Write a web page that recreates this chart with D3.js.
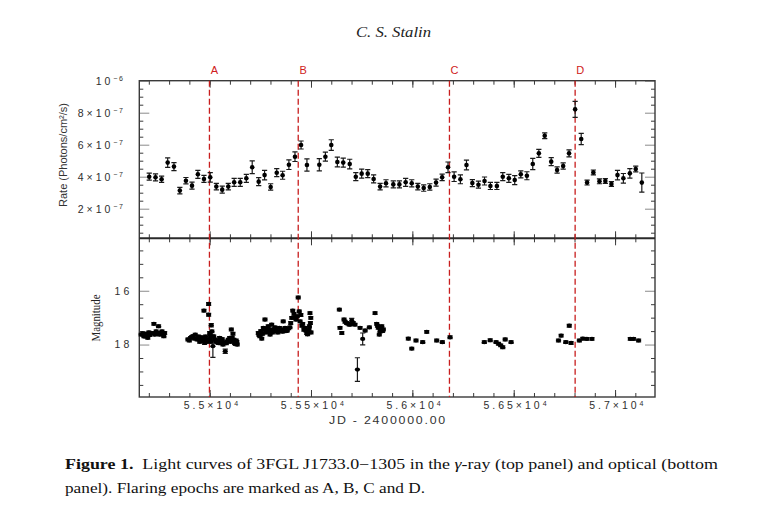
<!DOCTYPE html>
<html>
<head>
<meta charset="utf-8">
<script src="https://cdn.jsdelivr.net/npm/d3@7"></script>
<style>
body { margin: 0; background: #fff; }
</style>
</head>
<body>
<svg id="drawing_region"></svg>
<script>
// gamma-ray light curve (monthly bins), rate in units of 1e-7 photons/cm2/s
const gammaJD = [54702,54733,54763,54793,54824,54853,54883,54913,54942,54972,
  55003,55033,55062,55092,55121,55151,55181,55210,55242,55271,
  55301,55331,55360,55391,55421,55451,55480,55541,55571,55600,
  55630,55659,55691,55721,55750,55780,55809,55841,55870,55906,
  55936,55967,55997,56027,56056,56086,56117,56147,56176,56206,
  56237,56267,56296,56326,56356,56385,56417,56446,56476,56505,
  56535,56565,56594,56624,56653,56685,56714,56744,56773,56803,
  56833,56862,56893,56923,56952,56982,57012,57041,57073,57102,57132];
const gammaRate = [4.00,3.96,3.84,4.88,4.63,3.13,3.75,3.44,4.15,3.86,
  3.96,3.38,3.19,3.38,3.65,3.65,3.90,4.59,3.69,4.10,
  3.36,4.25,4.09,4.75,5.25,5.98,4.73,4.75,5.25,5.98,
  4.92,4.88,4.79,4.00,4.19,4.19,3.86,3.38,3.59,3.52,
  3.52,3.65,3.59,3.38,3.29,3.36,3.63,3.96,4.59,4.00,
  3.84,4.73,3.60,3.50,3.73,3.42,3.42,4.00,3.90,3.79,
  4.15,4.06,4.79,5.46,6.56,4.94,4.42,4.67,5.46,8.21,
  6.36,3.63,4.27,3.71,3.73,3.54,4.10,3.90,4.21,4.48,3.63];
const gammaErr = [0.22,0.22,0.20,0.30,0.25,0.20,0.20,0.22,0.25,0.22,
  0.30,0.20,0.22,0.20,0.25,0.25,0.25,0.40,0.25,0.30,
  0.20,0.25,0.25,0.30,0.30,0.25,0.38,0.38,0.28,0.33,
  0.30,0.28,0.30,0.25,0.28,0.25,0.25,0.20,0.22,0.22,
  0.22,0.25,0.22,0.20,0.20,0.20,0.22,0.20,0.33,0.30,
  0.28,0.30,0.22,0.22,0.25,0.22,0.22,0.25,0.25,0.28,
  0.22,0.25,0.35,0.25,0.18,0.25,0.20,0.20,0.22,0.50,
  0.35,0.15,0.15,0.15,0.15,0.15,0.30,0.30,0.30,0.18,0.60];

// optical light curve (magnitudes)
const optJD = [54662,54670,54676,54682,54687,54695,54700,54704,54715,54725,54729,54736,54740,54748,54753,54758,54765,54770,54774,54778,
  54893,54900,54906,54912,54918,54925,54929,54939,54945,54951,54955,54959,54963,54967,54972,54975,54980,54983,54988,54995,54995,
  55000,55003,55004,55006,55008,55011,55016,55020,55025,55030,55036,55042,55049,55053,55057,55062,55066,55070,55077,55082,55087,
  55092,55099,55103,55107,55111,55115,55119,55123,55127,55131,55134,55136,
  55240,55244,55248,55252,55257,55261,55265,55269,55273,55277,55281,55285,55289,55293,55298,55302,55306,55310,55314,55318,
  55322,55326,55331,55336,55344,55349,55355,55360,55363,55368,55372,55377,55383,55390,55396,55400,55405,55410,55416,55420,
  55426,55432,55437,55442,55446,55450,55455,55459,55465,55470,55475,55479,55483,55487,55490,55492,55495,55497,55499,55500,
  55640,55643,55652,55663,55668,55676,55682,55689,55695,55701,55708,55717,55729,55742,55755,55767,55788,55816,55824,55828,
  55832,55837,55841,55845,55849,55853,55857,
  55980,55997,56018,56051,56071,56120,56148,56186,56355,56384,56413,56425,56436,56446,56458,56487,
  56721,56734,56757,56774,56783,56824,56841,56861,56886,57075,57091,57116];
const optMag = [17.63,17.58,17.69,17.70,17.60,17.75,17.55,17.65,17.57,17.23,17.63,17.51,17.60,17.32,17.63,17.56,17.51,17.62,17.69,17.57,
  17.81,17.85,17.75,17.72,17.69,17.78,17.63,17.81,17.70,17.90,17.82,17.73,17.86,17.75,16.74,17.94,17.70,17.81,17.90,16.49,16.89,
  17.57,17.78,17.65,17.90,17.28,17.51,18.06,17.70,17.81,17.90,17.85,17.94,17.75,17.95,17.88,17.80,18.00,17.92,18.25,17.95,17.88,
  17.82,17.75,17.90,17.44,17.75,17.60,17.82,17.94,17.98,17.85,17.90,18.00,
  17.57,17.65,17.69,17.50,17.78,17.60,17.38,17.45,17.07,17.55,17.51,17.42,17.32,17.50,17.63,17.45,17.26,17.55,17.44,17.50,
  17.36,17.45,17.51,17.55,17.38,17.50,17.44,17.52,17.14,17.48,17.38,17.50,17.48,17.40,17.36,17.20,17.01,16.74,16.86,17.00,
  17.07,16.95,16.25,16.77,17.14,16.90,17.30,17.23,17.45,17.38,17.48,17.57,17.62,17.51,17.45,17.32,16.83,17.20,17.01,17.55,
  16.70,17.38,17.57,17.07,17.15,17.20,17.22,17.26,17.25,17.11,17.20,17.26,18.93,17.38,17.79,17.48,17.36,16.83,17.23,17.30,
  17.38,17.63,17.51,17.42,17.32,17.50,17.44,
  17.78,18.15,17.85,17.91,17.53,17.85,17.91,17.73,17.91,17.84,17.91,17.97,18.03,18.10,17.81,17.91,
  17.85,17.67,17.91,17.30,17.94,17.85,17.78,17.79,17.79,17.79,17.79,17.85];
const optErr = [0.05,0.05,0.05,0.05,0.05,0.05,0.05,0.05,0.05,0.05,0.05,0.05,0.05,0.05,0.05,0.05,0.05,0.05,0.05,0.05,
  0.05,0.05,0.05,0.05,0.05,0.05,0.05,0.05,0.05,0.05,0.05,0.05,0.05,0.05,0.05,0.05,0.05,0.05,0.05,0.05,0.05,
  0.05,0.05,0.05,0.05,0.06,0.05,0.42,0.05,0.05,0.05,0.05,0.05,0.05,0.05,0.05,0.05,0.05,0.05,0.08,0.05,0.05,
  0.05,0.05,0.05,0.05,0.05,0.05,0.05,0.05,0.05,0.05,0.05,0.05,
  0.05,0.05,0.05,0.05,0.05,0.05,0.05,0.05,0.05,0.05,0.05,0.05,0.05,0.05,0.05,0.05,0.05,0.05,0.05,0.05,
  0.05,0.05,0.05,0.05,0.05,0.05,0.05,0.05,0.05,0.05,0.05,0.05,0.05,0.05,0.05,0.05,0.05,0.05,0.05,0.05,
  0.05,0.05,0.05,0.05,0.05,0.05,0.05,0.05,0.05,0.05,0.05,0.05,0.05,0.05,0.05,0.05,0.05,0.05,0.05,0.05,
  0.05,0.05,0.05,0.05,0.05,0.05,0.05,0.05,0.05,0.08,0.05,0.05,0.44,0.05,0.22,0.05,0.05,0.05,0.05,0.05,
  0.05,0.05,0.05,0.05,0.05,0.05,0.05,
  0.05,0.05,0.05,0.05,0.05,0.05,0.05,0.05,0.05,0.05,0.05,0.05,0.05,0.05,0.05,0.05,
  0.05,0.05,0.05,0.05,0.05,0.05,0.05,0.05,0.05,0.05,0.05,0.05];

// flaring epochs
const flareJD = [54999, 55437, 56183, 56803];
const flareLabels = ["A", "B", "C", "D"];

// tick labels
const rateTicks = [2, 4, 6, 8, 10];
const rateTickLabels = ["2×10⁻⁷", "4×10⁻⁷", "6×10⁻⁷", "8×10⁻⁷", "10⁻⁶"];
const magTicks = [16, 18];
const magTickLabels = ["16", "18"];
const jdTicks = [55000, 55500, 56000, 56500, 57000];
const jdTickLabels = ["5.5×10⁴", "5.55×10⁴", "5.6×10⁴", "5.65×10⁴", "5.7×10⁴"];

const config = {
    width: 764,
    height: 517,
    left: 139.3, right: 655,
    top: 80.7, mid: 238.3, bottom: 397
};

const svg = d3.select('#drawing_region')
    .attr('width', config.width)
    .attr('height', config.height)
    .style('display', 'block');

const xScale = d3.scaleLinear().domain([54653, 57197]).range([config.left, config.right]);
const yRate = d3.scaleLinear().domain([0.15, 10]).range([config.mid, config.top]);
const yMag = d3.scaleLinear().domain([14.05, 19.95]).range([config.mid, config.bottom]);

const tickFont = "'Liberation Sans', Arial, sans-serif";
const serif = "'Liberation Serif', 'Times New Roman', serif";
const frameColor = '#3a3a3a';

const minorX = d3.range(54700, 57200, 100);
const minorRate = d3.range(0.5, 10, 0.5);
const minorMag = d3.range(14.5, 20, 0.5);

// unicode superscripts -> a small raised tspan (renders bigger than the font's own glyphs)
const supMap = { '⁻': '−', '⁰': '0', '¹': '1', '²': '2', '³': '3', '⁴': '4', '⁵': '5', '⁶': '6', '⁷': '7', '⁸': '8', '⁹': '9' };
function splitSup(text) {
    const m = text.match(/^(.*?)([⁻⁰¹²³⁴⁵⁶⁷⁸⁹]+)$/);
    if (!m) return [text, ''];
    return [m[1], m[2].split('').map(c => supMap[c]).join('')];
}

function styleAxis(g, tickColor) {
    g.select('.domain').remove();
    g.selectAll('.tick line').attr('stroke', tickColor || frameColor).attr('stroke-width', 1);
    g.selectAll('.tick text')
        .attr('fill', '#2e2e2e')
        .style('font-family', tickFont)
        .style('font-size', '10.5px')
        .style('letter-spacing', '3px')
        .each(function() {
            const t = d3.select(this);
            const [base, sup] = splitSup(t.text());
            if (!sup) return;
            t.text(null);
            t.append('tspan').text(base);
            t.append('tspan')
                .attr('dy', '-0.45em')
                .style('font-size', '7px')
                .style('letter-spacing', '1.5px')
                .text(sup);
        });
}

// x axes (top and bottom of each panel), ticks pointing inwards
function xAxes(y, axisFn, withLabels) {
    svg.append('g')
        .attr('transform', `translate(0,${y})`)
        .call(axisFn(xScale).tickValues(minorX).tickSize(-4).tickFormat(''))
        .call(g => styleAxis(g));
    svg.append('g')
        .attr('transform', `translate(0,${y})`)
        .call(axisFn(xScale).tickValues(jdTicks).tickSize(-7).tickPadding(5)
            .tickFormat((d, i) => withLabels ? jdTickLabels[i] : ''))
        .call(g => styleAxis(g))
        .call(g => g.selectAll('.tick text').attr('dx', '1.5px'));
}
xAxes(config.top, d3.axisTop, false);
xAxes(config.mid, d3.axisBottom, false);
xAxes(config.mid, d3.axisTop, false);
xAxes(config.bottom, d3.axisBottom, true);

// y axes
function yAxes(scale, minor, major, labels, pad) {
    [[d3.axisLeft, config.left, true], [d3.axisRight, config.right, false]].forEach(([fn, x, lab]) => {
        svg.append('g')
            .attr('transform', `translate(${x},0)`)
            .call(fn(scale).tickValues(minor).tickSize(-4).tickFormat(''))
            .call(g => styleAxis(g));
        svg.append('g')
            .attr('transform', `translate(${x},0)`)
            .call(fn(scale).tickValues(major).tickSize(-10).tickPadding(pad)
                .tickFormat((d, i) => lab ? labels[i] : ''))
            .call(g => styleAxis(g, '#8a8a8a'));
    });
}
yAxes(yRate, minorRate.filter(v => v % 2 !== 0), rateTicks, rateTickLabels, 15);
yAxes(yMag, minorMag.filter(v => v !== 16 && v !== 18), magTicks, magTickLabels, 7);

// frames
svg.append('rect')
    .attr('x', config.left).attr('y', config.top)
    .attr('width', config.right - config.left).attr('height', config.bottom - config.top)
    .attr('fill', 'none').attr('stroke', frameColor).attr('stroke-width', 1.4);
svg.append('line')
    .attr('x1', config.left).attr('x2', config.right)
    .attr('y1', config.mid).attr('y2', config.mid)
    .attr('stroke', '#2a2a2a').attr('stroke-width', 2);

// flare markers
svg.selectAll('line.flare')
    .data(flareJD)
    .enter()
    .append('line')
    .attr('class', 'flare')
    .attr('x1', d => xScale(d)).attr('x2', d => xScale(d))
    .attr('y1', config.top).attr('y2', config.bottom)
    .attr('stroke', '#c81e1e')
    .attr('stroke-width', 1.3)
    .attr('stroke-dasharray', '6,3');
svg.selectAll('text.flare')
    .data(flareJD)
    .enter()
    .append('text')
    .attr('class', 'flare')
    .attr('x', d => xScale(d) + 5)
    .attr('y', 73.5)
    .attr('text-anchor', 'middle')
    .attr('fill', '#d02020')
    .style('font-family', tickFont)
    .style('font-size', '11px')
    .text((d, i) => flareLabels[i]);

// gamma-ray points
const gamma = gammaJD.map((d, i) => ({ jd: d, v: gammaRate[i], e: gammaErr[i] }));
const gG = svg.append('g');
gG.selectAll('path.err')
    .data(gamma)
    .enter()
    .append('path')
    .attr('d', d => {
        const x = xScale(d.jd), y1 = yRate(d.v - d.e), y2 = yRate(d.v + d.e);
        return `M${x},${y1}V${y2}M${x - 2.6},${y1}h5.2M${x - 2.6},${y2}h5.2`;
    })
    .attr('fill', 'none')
    .attr('stroke', '#1a1a1a')
    .attr('stroke-width', 1.2);
gG.selectAll('circle')
    .data(gamma)
    .enter()
    .append('circle')
    .attr('cx', d => xScale(d.jd))
    .attr('cy', d => yRate(d.v))
    .attr('r', 2.3)
    .attr('fill', '#000');

// optical points
const opt = optJD.map((d, i) => ({ jd: d, m: optMag[i], e: optErr[i] }));
const gO = svg.append('g');
gO.selectAll('path.err')
    .data(opt)
    .enter()
    .append('path')
    .attr('d', d => {
        const x = xScale(d.jd), y1 = yMag(d.m - d.e), y2 = yMag(d.m + d.e);
        return `M${x},${y1}V${y2}M${x - 2.6},${y1}h5.2M${x - 2.6},${y2}h5.2`;
    })
    .attr('fill', 'none')
    .attr('stroke', '#1a1a1a')
    .attr('stroke-width', 1.2);
gO.selectAll('ellipse')
    .data(opt)
    .enter()
    .append('ellipse')
    .attr('cx', d => xScale(d.jd))
    .attr('cy', d => yMag(d.m))
    .attr('rx', 2.6)
    .attr('ry', 2.1)
    .attr('fill', '#000');

// axis titles
svg.append('text')
    .attr('transform', 'translate(67,155) rotate(-90)')
    .attr('text-anchor', 'middle')
    .attr('textLength', 104)
    .attr('lengthAdjust', 'spacingAndGlyphs')
    .attr('fill', '#333')
    .style('font-family', "'Liberation Sans Narrow', 'Liberation Sans', sans-serif")
    .style('font-size', '11.5px')
    .text('Rate (Photons/cm²/s)');
svg.append('text')
    .attr('transform', 'translate(100,318) rotate(-90)')
    .attr('text-anchor', 'middle')
    .attr('textLength', 47)
    .attr('lengthAdjust', 'spacingAndGlyphs')
    .attr('fill', '#222')
    .style('font-family', serif)
    .style('font-size', '12px')
    .text('Magnitude');
svg.append('text')
    .attr('x', 329).attr('y', 424)
    .attr('textLength', 118)
    .attr('lengthAdjust', 'spacingAndGlyphs')
    .attr('fill', '#333')
    .style('font-family', tickFont)
    .style('font-size', '10.5px')
    .style('letter-spacing', '1.5px')
    .text('JD - 2400000.00');

// running head
svg.append('text')
    .attr('x', 356).attr('y', 37)
    .attr('textLength', 75)
    .attr('lengthAdjust', 'spacingAndGlyphs')
    .attr('fill', '#222')
    .style('font-family', serif)
    .style('font-style', 'italic')
    .style('font-size', '15px')
    .text('C. S. Stalin');

// caption
const cap1 = svg.append('text')
    .attr('x', 65).attr('y', 469)
    .attr('textLength', 653)
    .attr('lengthAdjust', 'spacingAndGlyphs')
    .attr('fill', '#111')
    .style('font-family', serif)
    .style('font-size', '14px');
cap1.append('tspan').style('font-weight', 'bold').text('Figure 1.');
cap1.append('tspan').text('\u00a0 Light curves of 3FGL J1733.0\u22121305 in the ');
cap1.append('tspan').style('font-style', 'italic').text('\u03b3');
cap1.append('tspan').text('-ray (top panel) and optical (bottom');
svg.append('text')
    .attr('x', 65).attr('y', 493)
    .attr('textLength', 360)
    .attr('lengthAdjust', 'spacingAndGlyphs')
    .attr('fill', '#111')
    .style('font-family', serif)
    .style('font-size', '14px')
    .text('panel). Flaring epochs are marked as A, B, C and D.');
</script>
</body>
</html>
